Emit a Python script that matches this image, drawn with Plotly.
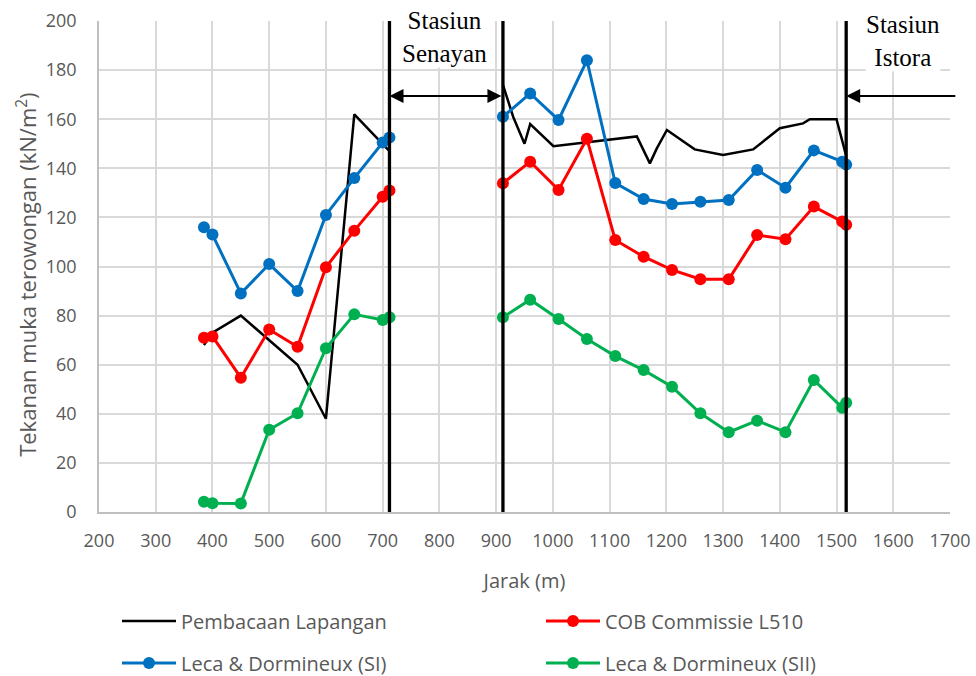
import plotly.graph_objects as go

# ---- data ----
x_field = [385, 400, 450, 500, 550, 600, 650, 712, None,
           912, 930, 950, 960, 1001, 1148, 1171, 1183, 1201, 1250, 1300, 1353, 1400, 1441, 1453, 1500, 1517]
y_field = [68, 73, 80, 70, 60, 38, 162, 147, None,
           174, 161, 150, 158, 149, 153, 142, 148, 155.6, 147.7, 145.4, 147.7, 156.3, 158.3, 160, 160, 145]

x_calc = [385, 400, 450, 500, 550, 600, 650, 700, 712, None,
          912, 960, 1010, 1060, 1110, 1160, 1210, 1260, 1310, 1360, 1410, 1460, 1510, 1517]
y_cob = [71, 71.5, 54.7, 74.3, 67.3, 99.7, 114.6, 128.4, 131, None,
         133.9, 142.7, 131.2, 152, 110.8, 104, 98.6, 94.8, 94.8, 112.8, 111.1, 124.4, 118.3, 117]
y_si = [116, 113, 89, 101, 90, 121, 136, 150.5, 152.5, None,
        161, 170.5, 159.7, 184, 134, 127.5, 125.5, 126.4, 127.1, 139.3, 132.1, 147.3, 142.7, 141.5]
y_sii = [4.2, 3.6, 3.5, 33.5, 40.2, 66.7, 80.5, 78.2, 79.3, None,
         79.3, 86.5, 78.6, 70.5, 63.5, 57.8, 51, 40.2, 32.5, 37.2, 32.5, 53.8, 42.5, 44.5]

names = ["Pembacaan Lapangan", "COB Commissie L510", "Leca & Dormineux (SI)", "Leca & Dormineux (SII)"]
colors = ["#000000", "#FF0000", "#0070C0", "#00B050"]

station_lines = [712, 912, 1517]
arrow_y = 169.5
senayan_label_x = 809
istora_label_x = 1617
istora_arrow_tail = 1712

x_ticks = list(range(200, 1701, 100))
y_ticks = list(range(0, 201, 20))

GRAY = "#595959"
SANS = "Open Sans, Liberation Sans, sans-serif"
TICK_FONT = dict(family=SANS, size=18, color=GRAY)
SERIF = dict(family="Liberation Serif, Times New Roman, serif", size=25, color="#000000")

W, H = 976, 676

fig = go.Figure()
fig.add_trace(go.Scatter(x=x_field, y=y_field, mode="lines", name=names[0],
                         line=dict(color=colors[0], width=2.5), connectgaps=False, legend="legend"))
fig.add_trace(go.Scatter(x=x_calc, y=y_cob, mode="lines+markers", name=names[1],
                         line=dict(color=colors[1], width=3), marker=dict(size=12, color=colors[1]),
                         connectgaps=False, legend="legend"))
fig.add_trace(go.Scatter(x=x_calc, y=y_si, mode="lines+markers", name=names[2],
                         line=dict(color=colors[2], width=3), marker=dict(size=12, color=colors[2]),
                         connectgaps=False, legend="legend2"))
fig.add_trace(go.Scatter(x=x_calc, y=y_sii, mode="lines+markers", name=names[3],
                         line=dict(color=colors[3], width=3), marker=dict(size=12, color=colors[3]),
                         connectgaps=False, legend="legend2"))

for xv in station_lines:
    fig.add_shape(type="line", xref="x", yref="paper", x0=xv, x1=xv, y0=0, y1=1,
                  line=dict(color="black", width=3.3), layer="above")

# double-headed arrow between Senayan lines
fig.add_annotation(x=station_lines[0], y=arrow_y, ax=station_lines[1], ay=arrow_y,
                   xref="x", yref="y", axref="x", ayref="y", text="", showarrow=True,
                   arrowhead=2, arrowside="end+start", arrowsize=1.4, arrowwidth=2, arrowcolor="black",
                   startarrowhead=2, startarrowsize=1.4)
fig.add_annotation(x=station_lines[2], y=arrow_y, ax=istora_arrow_tail, ay=arrow_y,
                   xref="x", yref="y", axref="x", ayref="y", text="", showarrow=True,
                   arrowhead=2, arrowsize=1.4, arrowwidth=2, arrowcolor="black")
fig.add_annotation(x=senayan_label_x, y=1.03, xref="x", yref="paper", yanchor="top",
                   text="Stasiun<br>Senayan", showarrow=False, font=SERIF, align="center",
                   bgcolor="white", borderpad=0)
fig.add_annotation(x=istora_label_x, y=1.022, xref="x", yref="paper", yanchor="top",
                   text="Stasiun<br>Istora", showarrow=False, font=SERIF, align="center",
                   bgcolor="white", borderpad=0)
# y-axis title
fig.add_annotation(x=-0.0846, y=0.483, xref="paper", yref="paper", xanchor="center", yanchor="middle",
                   text="Tekanan muka terowongan (kN/m<sup>2</sup>)", textangle=-90, showarrow=False,
                   font=dict(family=SANS, size=22, color=GRAY))

LEG_FONT = dict(family=SANS, size=20, color=GRAY)
fig.update_layout(
    width=W, height=H,
    margin=dict(l=99, r=26, t=21, b=164, autoexpand=False),
    paper_bgcolor="white", plot_bgcolor="white",
    font=TICK_FONT,
    showlegend=True,
    legend=dict(orientation="h", xref="container", yref="container", x=117 / W, y=1 - 621 / H,
                xanchor="left", yanchor="middle",
                entrywidth=355, entrywidthmode="pixels", font=LEG_FONT, itemwidth=54),
    legend2=dict(orientation="h", xref="container", yref="container", x=117 / W, y=1 - 663 / H,
                 xanchor="left", yanchor="middle",
                 entrywidth=355, entrywidthmode="pixels", font=LEG_FONT, itemwidth=54),
)
fig.update_xaxes(range=[200, 1700], tickvals=x_ticks, ticktext=[str(v) for v in x_ticks],
                 showgrid=True, gridcolor="#d9d9d9", gridwidth=1.5, zeroline=False,
                 showline=True, linecolor="#bfbfbf", linewidth=1.5, ticks="",
                 ticklabelstandoff=12, automargin=False,
                 tickfont=TICK_FONT, title=dict(text="Jarak (m)", font=dict(family=SANS, size=20, color=GRAY), standoff=23))
fig.update_yaxes(range=[0, 200], tickvals=y_ticks, showgrid=True, gridcolor="#d9d9d9", gridwidth=1.5,
                 zeroline=False, showline=True, linecolor="#bfbfbf", linewidth=1.5, ticks="",
                 ticklabelstandoff=17, automargin=False, tickfont=TICK_FONT)

fig.write_html("out.html", config={"displayModeBar": False},
               post_script="document.body.style.margin='0px';document.body.style.overflow='hidden';")
